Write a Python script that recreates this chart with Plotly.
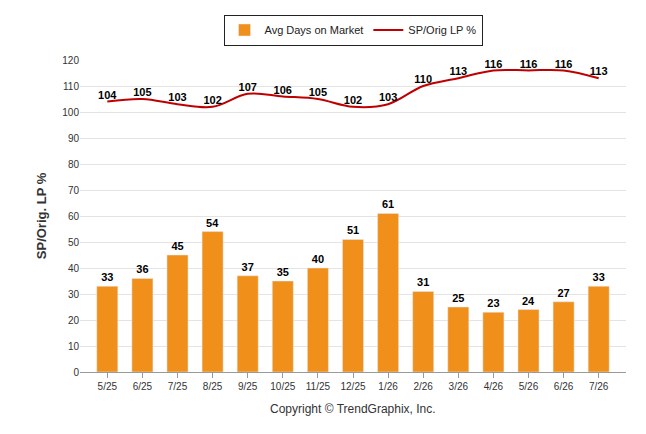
import plotly.graph_objects as go

months = ["5/25","6/25","7/25","8/25","9/25","10/25","11/25","12/25","1/26","2/26","3/26","4/26","5/26","6/26","7/26"]
days = [33,36,45,54,37,35,40,51,61,31,25,23,24,27,33]
splp = [104,105,103,102,107,106,105,102,103,110,113,116,116,116,113]

fig = go.Figure()
fig.add_trace(go.Bar(x=months, y=days, name="Avg Days on Market", marker_color="#F0901A",
                     width=0.6, text=days, textposition="outside",
                     textfont=dict(family="Arial", size=11, color="black", weight="bold"), cliponaxis=False))
fig.add_trace(go.Scatter(x=months, y=splp, name="SP/Orig LP %", mode="lines+text",
                         line=dict(color="#C00000", width=2, shape="spline"),
                         text=splp, textposition="top center",
                         textfont=dict(family="Arial", size=11, color="black", weight="bold"), cliponaxis=False))
fig.update_layout(
    width=646, height=434, plot_bgcolor="white", paper_bgcolor="white",
    margin=dict(l=72, r=28, t=52, b=70, autoexpand=False),
    font=dict(family="Arial", size=10, color="#333"),
    bargap=0.4, showlegend=True,
    legend=dict(orientation="h", x=0.5, xanchor="center", y=0.985, yanchor="top", yref="container",
                bordercolor="#222", borderwidth=1, font=dict(size=11, color="#222")),
    xaxis=dict(showline=True, linecolor="#999", ticks="outside", tickcolor="#999", tickfont=dict(size=10)),
    yaxis=dict(range=[0,120], dtick=10, gridcolor="#e4e4e4", zeroline=False,
               title=dict(text="SP/Orig. LP %", standoff=12, font=dict(size=13, color="#333", weight="bold"))),
    annotations=[dict(text="Copyright © TrendGraphix, Inc.", x=0.5, xref="paper", y=-0.09, yref="paper",
                      yanchor="top", showarrow=False, font=dict(size=12, color="#333"))],
)
fig.write_html("out.html")
